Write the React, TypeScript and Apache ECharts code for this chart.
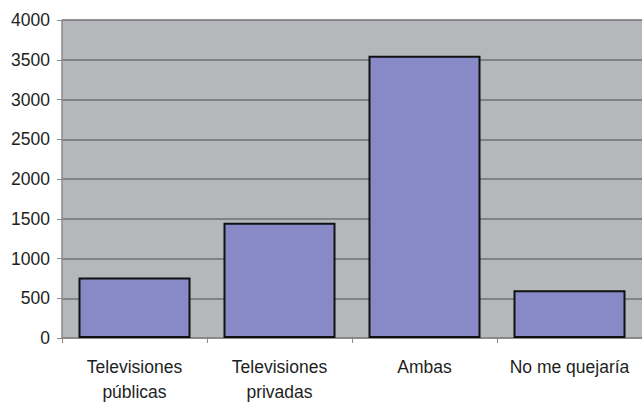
import React, { useEffect, useRef } from "react";
import * as echarts from "echarts";

const categories = ["Televisiones\npúblicas", "Televisiones\nprivadas", "Ambas", "No me quejaría"];
const values = [760, 1450, 3550, 600];
const yTicks = [0, 500, 1000, 1500, 2000, 2500, 3000, 3500, 4000];

export default function App() {
  const ref = useRef<HTMLDivElement>(null);
  useEffect(() => {
    if (!ref.current) return;
    const chart = echarts.init(ref.current, null, { renderer: "svg" });
    chart.setOption({
      animation: false,
      backgroundColor: "#ffffff",
      grid: { left: 62, top: 20, width: 587, height: 319, containLabel: false, show: true, backgroundColor: "#b5b7ba", borderWidth: 0 },
      xAxis: {
        type: "category",
        data: categories,
        axisLine: { show: true, lineStyle: { color: "#8a8a8a", width: 1.5 } },
        axisTick: { show: true, length: 5, lineStyle: { color: "#8a8a8a" } },
        axisLabel: { color: "#1e1e1e", fontFamily: "Liberation Sans, Arial", fontSize: 17.5, margin: 16, lineHeight: 25, interval: 0 },
        splitLine: { show: false },
      },
      yAxis: {
        type: "value",
        min: yTicks[0],
        max: yTicks[yTicks.length - 1],
        interval: 500,
        axisLine: { show: true, lineStyle: { color: "#8a8a8a", width: 1.5 } },
        axisTick: { show: true, length: 5, lineStyle: { color: "#8a8a8a" } },
        axisLabel: { color: "#1e1e1e", fontFamily: "Liberation Sans, Arial", fontSize: 17.5, margin: 12, formatter: (v: number) => String(v) },
        splitLine: { show: true, lineStyle: { color: "#707070", width: 1.5 } },
      },
      series: [
        {
          type: "bar",
          data: values,
          barWidth: 112,
          itemStyle: { color: "#8889c7", borderColor: "#111", borderWidth: 2 },
        },
      ],
    });
    return () => chart.dispose();
  }, []);
  return <div ref={ref} style={{ position: "fixed", left: 0, top: 0, width: 642, height: 404 }} />;
}
